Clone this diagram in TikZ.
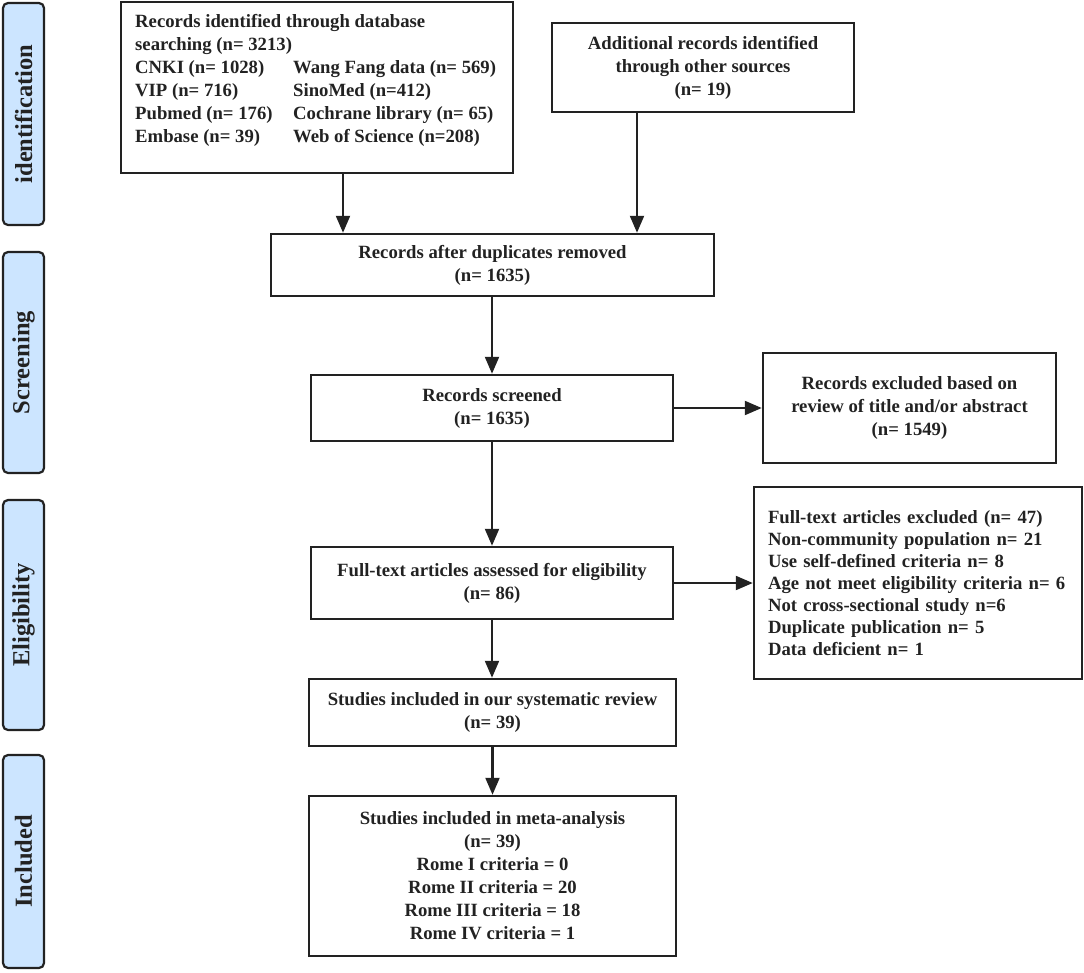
\documentclass[tikz,border=0pt]{standalone}
\usepackage{fontspec}
\setmainfont{Liberation Serif}
\usetikzlibrary{arrows.meta}
\definecolor{lblue}{RGB}{204,229,255}
\definecolor{ink}{RGB}{34,34,34}
\begin{document}
\begin{tikzpicture}[x=1pt,y=-1pt,
  box/.style={draw=ink,line width=2.5pt,rectangle,inner sep=0pt,align=center,text=ink,
    font=\bfseries\fontsize{18.7}{23}\selectfont},
  side/.style={draw=ink,line width=2.2pt,fill=lblue,rounded corners=5pt,rotate=90,
    minimum height=41pt,inner sep=0pt,text=ink,font=\bfseries\fontsize{24.5}{28}\selectfont},
  arr/.style={draw=ink,line width=2.2pt,-{Triangle[length=17pt,width=14pt]}}]
\useasboundingbox (0,0) rectangle (1084,972);
% side labels
\node[side,minimum width=222pt] (sid) at (23.5,114) {identification};
\node[side,minimum width=221pt] (sscr) at (23.5,362.5) {Screening};
\node[side,minimum width=230pt] (selig) at (23.5,615) {Eligibility};
\node[side,minimum width=213pt] (sincl) at (23.5,861.5) {Included};
% boxes
\node[box,minimum width=392pt,minimum height=171pt] (db) at (317,87.5) {};
\node[anchor=north west,inner sep=0pt,text=ink,font=\bfseries\fontsize{18.7}{23}\selectfont] (dbtext) at (135,11)
 {\begin{tabular}{@{}p{158pt}@{}l@{}}
 \multicolumn{2}{@{}l@{}}{Records identified through database}\\
 \multicolumn{2}{@{}l@{}}{searching (n= 3213)}\\
 CNKI (n= 1028) & Wang Fang data (n= 569)\\
 VIP (n= 716) & SinoMed (n=412)\\
 Pubmed (n= 176) & Cochrane library (n= 65)\\
 Embase (n= 39) & Web of Science (n=208)
 \end{tabular}};
\node[box,minimum width=302pt,minimum height=89pt] (add) at (703,67.5)
 {Additional records identified\\through other sources\\(n= 19)};
\node[box,minimum width=443pt,minimum height=62pt] (dup) at (492.5,265)
 {Records after duplicates removed\\(n= 1635)};
\node[box,minimum width=362pt,minimum height=66pt] (scr) at (492,408)
 {Records screened\\(n= 1635)};
\node[box,minimum width=293pt,minimum height=110pt] (exc1) at (909.5,408)
 {Records excluded based on\\review of title and/or abstract\\(n= 1549)};
\node[box,minimum width=362pt,minimum height=72pt] (ft) at (492,583)
 {Full-text articles assessed for eligibility\\(n= 86)};
\node[box,minimum height=192pt,text width=300pt,inner xsep=14pt,align=left,
  font=\bfseries\fontsize{18.7}{22}\selectfont] (exc2) at (918,583)
 {Full-text articles excluded (n= 47)\\Non-community population n= 21\\Use self-defined criteria n= 8\\Age not meet eligibility criteria n= 6\\Not cross-sectional study n=6\\Duplicate publication n= 5\\Data deficient n= 1};
\node[box,minimum width=367pt,minimum height=67pt] (sys) at (492.5,712.5)
 {Studies included in our systematic review\\(n= 39)};
\node[box,minimum width=367pt,minimum height=160pt] (meta) at (492.5,876)
 {Studies included in meta-analysis\\(n= 39)\\Rome I criteria = 0\\Rome II criteria = 20\\Rome III criteria = 18\\Rome IV criteria = 1};
% connectors
\draw[arr] ([xshift=26pt]db.south) -- ([xshift=26pt]db.south |- dup.north);
\draw[arr] ([xshift=-66pt]add.south) -- ([xshift=-66pt]add.south |- dup.north);
\draw[arr] (dup.south -| scr.north) -- (scr.north);
\draw[arr] (scr.south) -- (ft.north);
\draw[arr] (ft.south) -- (sys.north -| ft.south);
\draw[arr] (sys.south -| meta.north) -- (meta.north);
\draw[arr] (scr.east) -- (exc1.west);
\draw[arr] (ft.east) -- (exc2.west);
\end{tikzpicture}
\end{document}
